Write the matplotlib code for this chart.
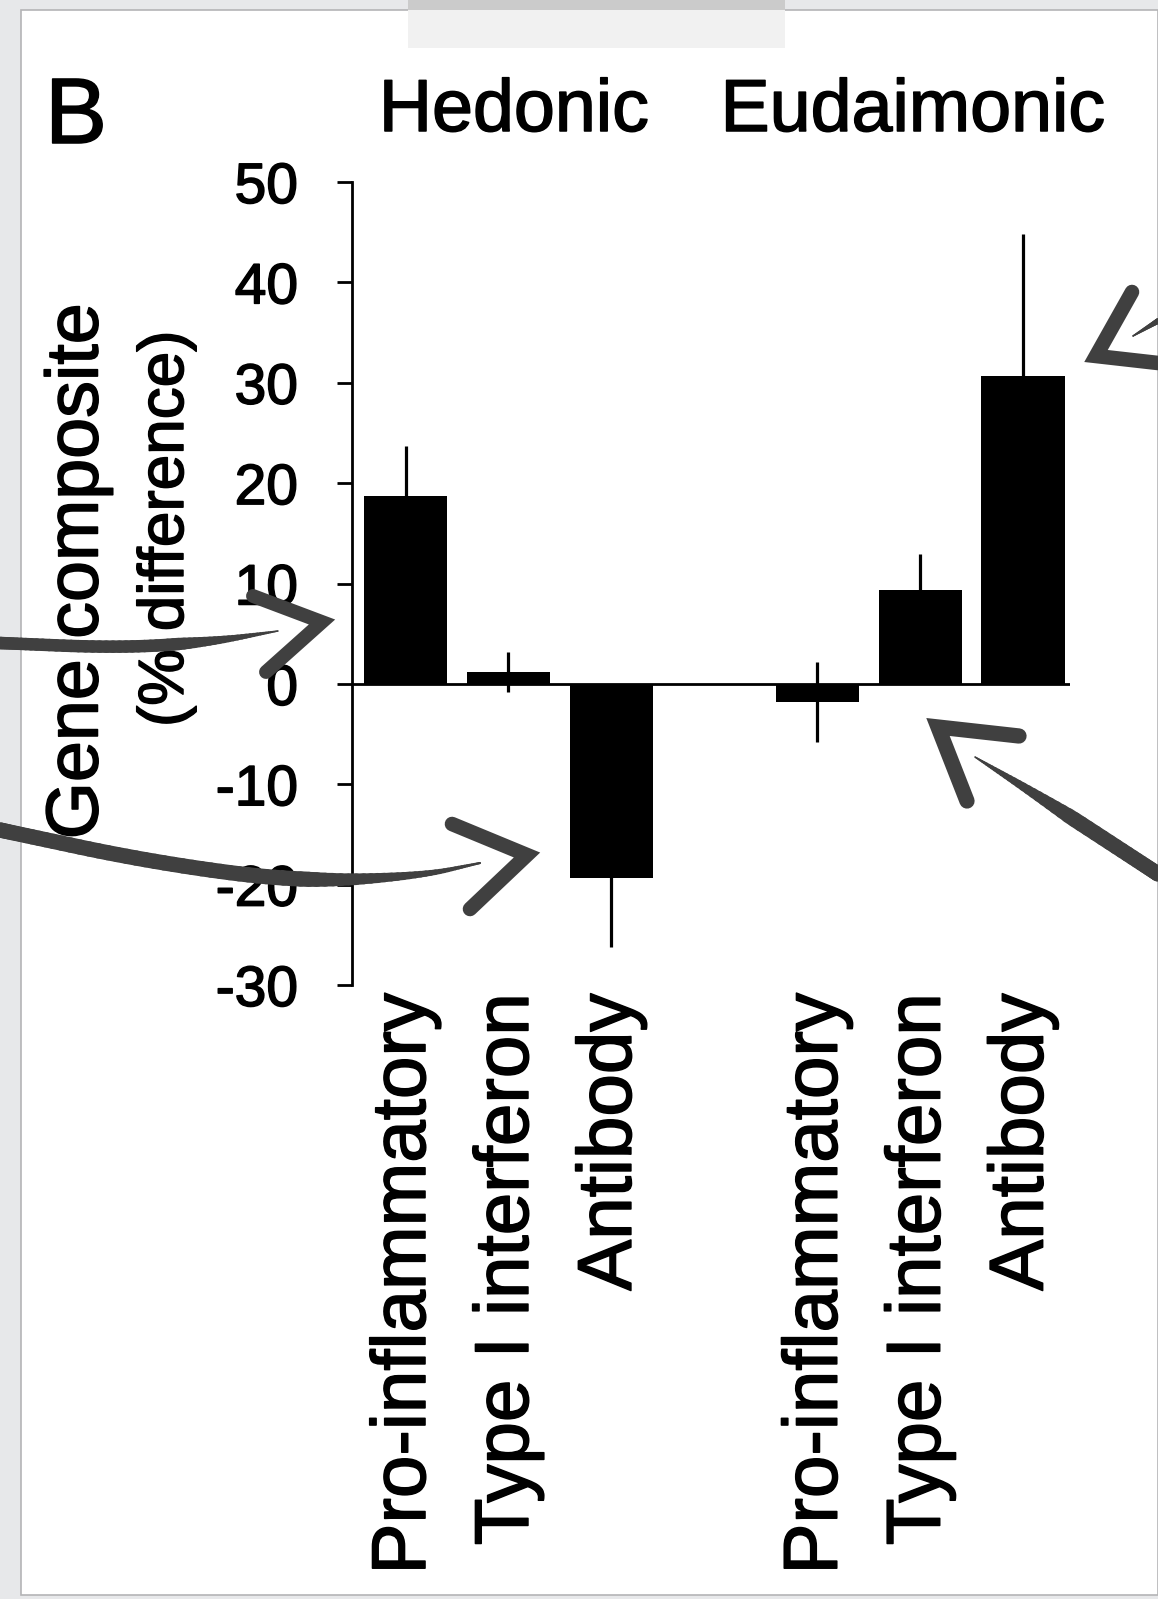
import numpy as np
import matplotlib
matplotlib.use("Agg")
import matplotlib.pyplot as plt
import matplotlib.patheffects as pe
from matplotlib.patches import Rectangle
from matplotlib.collections import LineCollection

plt.rcParams['font.family'] = ['Liberation Sans', 'DejaVu Sans']
plt.rcParams['axes.unicode_minus'] = False

# ---- data -------------------------------------------------------------
groups = ["Hedonic", "Eudaimonic"]
categories = ["Pro-inflammatory", "Type I interferon", "Antibody"]
hedonic_values = [18.7, 1.2, -19.3]
hedonic_errors = [5.0, 2.0, 6.9]
eudaimonic_values = [-1.8, 9.4, 30.7]
eudaimonic_errors = [4.0, 3.5, 14.1]
y_ticks = [-30, -20, -10, 0, 10, 20, 30, 40, 50]

W, H = 1158, 1599
fig = plt.figure(figsize=(W / 100, H / 100), dpi=100)
fig.patch.set_facecolor('#e7e8ea')

heavy = [pe.withStroke(linewidth=1.1, foreground='black')]


def fx(x):
    return x / W


def fy(y):
    return 1 - y / H


# ---- page background (screen frame) ------------------------------------
bg = fig.add_axes([0, 0, 1, 1], zorder=-10)
bg.set_xlim(0, W)
bg.set_ylim(H, 0)
bg.axis('off')
bg.add_patch(Rectangle((21, 10), W - 21, 1585, facecolor='white',
                       edgecolor='#b4b4b6', lw=1.2))
bg.add_patch(Rectangle((408, 10), 377, 38, facecolor='#f1f1f1', edgecolor='none'))
bg.add_patch(Rectangle((408, 0), 377, 10, facecolor='#cbcbcb', edgecolor='none'))

# ---- bar chart ----------------------------------------------------------
ax = fig.add_axes([fx(352), fy(985), (1070 - 352) / W, (985 - 182) / H])
ax.set_facecolor('none')

positions = [0, 1, 2, 4, 5, 6]
values = hedonic_values + eudaimonic_values
errors = hedonic_errors + eudaimonic_errors
ax.bar(positions, values, width=0.81, color='black', zorder=3)
ax.errorbar(positions, values, yerr=errors, fmt='none', ecolor='black',
            elinewidth=2.3, capsize=0, zorder=2)
ax.axhline(0, color='black', lw=2.0, zorder=4)

ax.set_xlim(-0.52, 6.455)
ax.set_ylim(-30, 50)
ax.set_yticks(y_ticks)
ax.tick_params(axis='y', direction='out', length=10.8, width=2.0, pad=28,
               labelsize=41)
ax.set_xticks(positions, categories + categories, rotation=90)
ax.tick_params(axis='x', length=0, pad=6, labelsize=55)
for lbl in ax.get_xticklabels() + ax.get_yticklabels():
    lbl.set_path_effects(heavy)
for side in ('top', 'right', 'bottom'):
    ax.spines[side].set_visible(False)
ax.spines['left'].set_linewidth(2.0)

# ---- titles and axis labels ----------------------------------------------
fig.text(fx(45), fy(143), "B", fontsize=67, va='baseline', ha='left',
         path_effects=heavy)
fig.text(fx(514), fy(131), groups[0], fontsize=53, va='baseline', ha='center',
         path_effects=heavy)
fig.text(fx(913), fy(131), groups[1], fontsize=53, va='baseline', ha='center',
         path_effects=heavy)
fig.text(fx(78), fy(571), "Gene composite", fontsize=53, rotation=90,
         ha='center', va='center', path_effects=heavy)
fig.text(fx(166), fy(529), "(% difference)", fontsize=46, rotation=90,
         ha='center', va='center', path_effects=heavy)

# ---- hand-drawn pointer arrows --------------------------------------------
ov = fig.add_axes([0, 0, 1, 1], zorder=20)
ov.set_xlim(0, W)
ov.set_ylim(H, 0)
ov.axis('off')
ov.patch.set_alpha(0)
ink = '#404040'


def chaikin(pts, rounds=4):
    pts = np.asarray(pts, dtype=float)
    for _ in range(rounds):
        q = 0.75 * pts[:-1] + 0.25 * pts[1:]
        r = 0.25 * pts[:-1] + 0.75 * pts[1:]
        mid = np.empty((2 * len(q), 2))
        mid[0::2] = q
        mid[1::2] = r
        pts = np.vstack([pts[:1], mid, pts[-1:]])
    return pts


def stroke(pts, w_full, w_thin, thin_end=True, fade=0.35):
    """Brush stroke along a smoothed polyline, thinning toward one end."""
    p = chaikin(pts)
    segs = np.stack([p[:-1], p[1:]], axis=1)
    seg_len = np.hypot(*np.diff(p, axis=0).T)
    u = np.cumsum(seg_len) / seg_len.sum()
    if thin_end:
        f = np.clip((1 - u) / fade, 0, 1)
    else:
        f = np.clip(u / fade, 0, 1)
    widths = w_thin + (w_full - w_thin) * f
    ov.add_collection(LineCollection(segs, linewidths=widths, colors=ink,
                                     capstyle='round'))


def chevron(pts, w):
    pts = np.asarray(pts, dtype=float)
    ov.plot(pts[:, 0], pts[:, 1], color=ink, lw=w, solid_capstyle='round',
            solid_joinstyle='miter')


# upper left
stroke([(0, 643), (120, 648), (210, 642), (278, 631)], 9.0, 1.0)
chevron([(253, 596), (322, 622), (266, 672)], 10.0)
# lower left
stroke([(0, 830), (150, 862), (300, 882), (420, 876), (480, 863)], 11.0, 1.5)
chevron([(452, 824), (527, 855), (470, 909)], 10.5)
# upper right
stroke([(1133, 336), (1158, 321)], 4.0, 1.0, thin_end=False, fade=1.0)
chevron([(1132, 292), (1096, 356), (1158, 363)], 10.5)
# lower right
stroke([(975, 757), (1040, 797), (1158, 874)], 11.0, 1.0, thin_end=False,
       fade=0.55)
chevron([(1019, 736), (938, 727), (967, 801)], 11.0)

fig.savefig('out.png', dpi=100)
